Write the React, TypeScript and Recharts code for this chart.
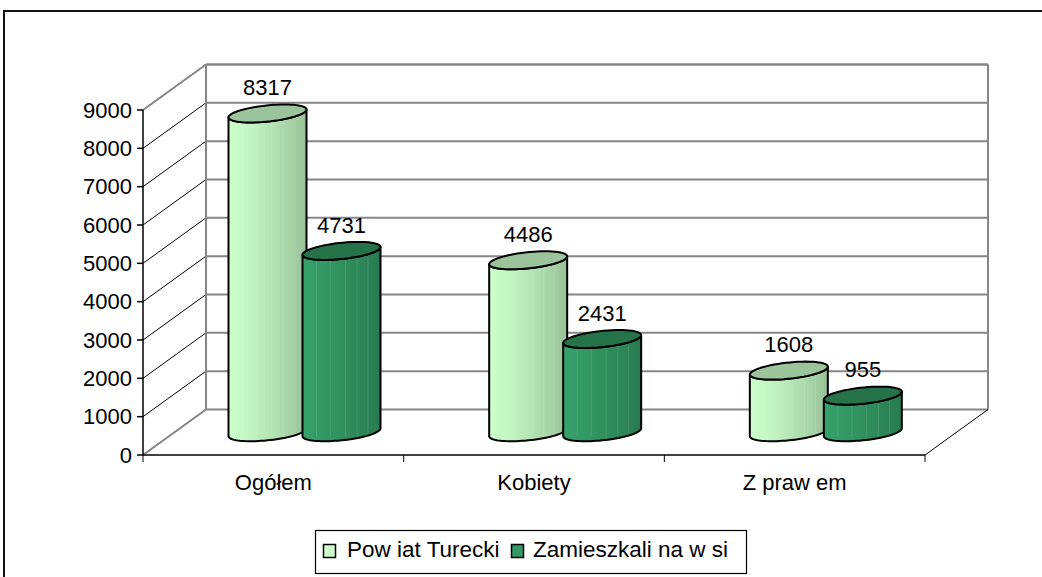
import React from 'react';
import { BarChart, Bar, XAxis, YAxis, CartesianGrid, ReferenceArea } from 'recharts';

const categories = ['Ogółem', 'Kobiety', 'Z praw em'];
const powiatValues = [8317, 4486, 1608];
const wsiValues = [4731, 2431, 955];
const seriesNames = ['Pow iat Turecki', 'Zamieszkali na w si'];
const yTicks = [0, 1000, 2000, 3000, 4000, 5000, 6000, 7000, 8000, 9000];

const data = categories.map((name, i) => ({ name, powiat: powiatValues[i], wsi: wsiValues[i] }));

const FONT = '"Liberation Sans", Arial, sans-serif';
const FS = 22;
const DX = 63;
const DY = -45.5;
const MX = DX / 2;
const MY = DY / 2;

const styles = {
  powiat: {
    stops: [
      [0, '#CCFFCC'],
      [0.3, '#C2F3C2'],
      [0.55, '#B4E3B4'],
      [0.8, '#A6D2A6'],
      [1, '#98C198'],
    ],
    top: '#9CC49C',
    legend: '#CCFFCC',
  },
  wsi: {
    stops: [
      [0, '#37A26C'],
      [0.45, '#31925F'],
      [0.8, '#2C8457'],
      [1, '#277A4F'],
    ],
    top: '#277349',
    legend: '#339966',
  },
};

function ellipsePts(cx: number, cy: number, a: number, b: number, c: number, t0: number, t1: number, n: number) {
  const pts: string[] = [];
  for (let k = 0; k <= n; k++) {
    const t = t0 + ((t1 - t0) * k) / n;
    pts.push(`${(cx + a * Math.cos(t) + b * Math.sin(t)).toFixed(2)},${(cy - c * Math.sin(t)).toFixed(2)}`);
  }
  return pts;
}

function makeCylinder(key: 'powiat' | 'wsi') {
  return (props: any) => {
    const { x, y, width, height, index } = props;
    if (width == null || height == null) return <g />;
    const W = width / 2;
    const cx = x + W + MX;
    const top = y + MY;
    const bot = y + height + MY;
    const b = 17;
    const a = Math.sqrt(Math.max(W * W - b * b, 1));
    const c = 9;
    const t0 = Math.atan2(b, a);
    const botFront = ellipsePts(cx, bot, a, b, c, t0 + Math.PI, t0 + 2 * Math.PI, 40);
    const topFrontRev = ellipsePts(cx, top, a, b, c, t0 + 2 * Math.PI, t0 + Math.PI, 40);
    const body = `M${botFront[0]} ` + botFront.map((p) => `L${p}`).join(' ') + ' ' + topFrontRev.map((p) => `L${p}`).join(' ') + ' Z';
    const topE = ellipsePts(cx, top, a, b, c, 0, 2 * Math.PI, 60);
    const topPath = `M${topE[0]} ` + topE.map((p) => `L${p}`).join(' ') + ' Z';
    const st = styles[key];
    const gid = `grad-${key}-${index}`;
    const stripes = [0.18, 0.36, 0.55, 0.7, 0.84];
    return (
      <g>
        <defs>
          <linearGradient id={gid} x1="0" y1="0" x2="1" y2="0">
            {st.stops.map(([o, col], i) => (
              <stop key={i} offset={o as number} stopColor={col as string} />
            ))}
          </linearGradient>
        </defs>
        <path d={body} fill={`url(#${gid})`} stroke="none" />
        {stripes.map((f, i) => (
          <line
            key={i}
            x1={cx - W + f * 2 * W}
            x2={cx - W + f * 2 * W}
            y1={top + 6}
            y2={bot + 4}
            stroke="#ffffff"
            strokeOpacity={0.12}
            strokeWidth={1}
          />
        ))}
        <path d={body} fill="none" stroke="#000" strokeWidth={2} strokeLinejoin="round" />
        <path d={topPath} fill={st.top} stroke="#000" strokeWidth={2} strokeLinejoin="round" />
      </g>
    );
  };
}

const renderLabel = (props: any) => {
  const { x, y, width, value } = props;
  return (
    <text
      x={x + width / 2 + MX}
      y={y + MY - 26}
      dy="0.35em"
      textAnchor="middle"
      fontFamily={FONT}
      fontSize={FS}
      fill="#000"
    >
      {value}
    </text>
  );
};

const gridLine = (props: any) => {
  const { x1, x2, y1 } = props;
  return (
    <g key={props.key}>
      <line x1={x1 + DX} x2={x2 + DX} y1={y1 + DY} y2={y1 + DY} stroke="#868686" strokeWidth={2} />
      <line x1={x1} x2={x1 + DX} y1={y1} y2={y1 + DY} stroke="#000" strokeWidth={1} />
    </g>
  );
};

const frameShape = (props: any) => {
  const { x, y, width, height } = props;
  const bx = x + DX;
  const by = y + DY;
  return (
    <g>
      <line x1={bx} x2={bx} y1={by} y2={by + height} stroke="#868686" strokeWidth={2} />
      <line x1={bx + width} x2={bx + width} y1={by} y2={by + height} stroke="#868686" strokeWidth={2} />
      <line x1={bx} x2={bx + width} y1={by} y2={by} stroke="#868686" strokeWidth={2} />
      <line x1={x} x2={bx} y1={y} y2={by} stroke="#868686" strokeWidth={2} />
      <line x1={x} x2={bx} y1={y + height} y2={by + height} stroke="#868686" strokeWidth={2} />
      <line x1={x + width} x2={bx + width} y1={y + height} y2={by + height} stroke="#000" strokeWidth={1} />
    </g>
  );
};

const XTick = (props: any) => {
  const { x, y, payload, isLast } = props;
  const half = payload && payload.offset ? payload.offset : 130;
  const idx = payload ? payload.index : 0;
  const last = idx === categories.length - 1 || isLast;
  return (
    <g>
      <line x1={x - half} x2={x - half} y1={y} y2={y + 7} stroke="#000" strokeWidth={1} />
      {last ? <line x1={x + half} x2={x + half} y1={y} y2={y + 7} stroke="#000" strokeWidth={1} /> : null}
      <text x={x} y={y + 27} dy="0.355em" textAnchor="middle" fontFamily={FONT} fontSize={FS} fill="#000">
        {payload.value}
      </text>
    </g>
  );
};

export default function App() {
  return (
    <div style={{ position: 'absolute', left: 0, top: 0, width: 1042, height: 577, overflow: 'hidden', background: '#fff' }}>
      <div
        style={{
          position: 'absolute',
          left: 3,
          top: 10,
          width: 1200,
          height: 700,
          borderTop: '2px solid #111',
          borderLeft: '2px solid #111',
        }}
      />
      <div style={{ position: 'absolute', left: 0, top: 0 }}>
        <BarChart
          width={1042}
          height={577}
          data={data}
          margin={{ top: 110, right: 117, left: 83, bottom: 92 }}
          barSize={78}
          barGap={-4}
        >
          <CartesianGrid vertical={false} horizontal={gridLine} />
          <XAxis
            dataKey="name"
            height={30}
            interval={0}
            tickSize={0}
            tickMargin={0}
            axisLine={{ stroke: '#000', strokeWidth: 1.5 }}
            tick={<XTick />}
          />
          <YAxis
            width={60}
            domain={[0, 9000]}
            ticks={yTicks}
            interval={0}
            tickSize={6}
            tickMargin={5}
            axisLine={{ stroke: '#000', strokeWidth: 1.5 }}
            tickLine={{ stroke: '#000', strokeWidth: 1.5 }}
            tick={{ fontFamily: FONT, fontSize: FS, fill: '#000' }}
          />
          <ReferenceArea y1={0} y2={9000} ifOverflow="visible" shape={frameShape} />
          <Bar dataKey="powiat" name={seriesNames[0]} isAnimationActive={false} shape={makeCylinder('powiat')} label={renderLabel} />
          <Bar dataKey="wsi" name={seriesNames[1]} isAnimationActive={false} shape={makeCylinder('wsi')} label={renderLabel} />
        </BarChart>
      </div>
      <svg style={{ position: 'absolute', left: 0, top: 0 }} width={1042} height={577}>
        <rect x={315.5} y={530.5} width={431} height={43} fill="#fff" stroke="#000" strokeWidth={1.2} />
        <rect x={323.5} y={544.5} width={12} height={13} fill={styles.powiat.legend} stroke="#000" strokeWidth={1.5} />
        <text x={347} y={557} fontFamily={FONT} fontSize={22.5} fill="#000">
          {seriesNames[0]}
        </text>
        <rect x={511.5} y={544.5} width={12} height={13} fill={styles.wsi.legend} stroke="#000" strokeWidth={1.5} />
        <text x={533} y={557} fontFamily={FONT} fontSize={22.5} fill="#000">
          {seriesNames[1]}
        </text>
      </svg>
    </div>
  );
}
